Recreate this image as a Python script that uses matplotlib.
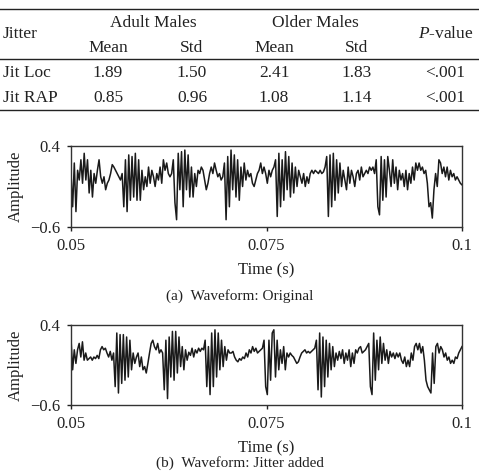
import numpy as np
import matplotlib
matplotlib.use("Agg")
import matplotlib.pyplot as plt

plt.rcParams['font.family'] = ['Liberation Serif', 'DejaVu Serif']
plt.rcParams['mathtext.fontset'] = 'custom'
plt.rcParams['mathtext.rm'] = 'Liberation Serif'
plt.rcParams['mathtext.it'] = 'Liberation Serif:italic'

# table data
row_names = ["Jit Loc", "Jit RAP"]
adult_mean = ["1.89", "0.85"]
adult_std = ["1.50", "0.96"]
older_mean = ["2.41", "1.08"]
older_std = ["1.83", "1.14"]
p_values = ["<.001", "<.001"]

# waveform values, 0.05 s .. 0.1 s
wave_original = [
    0.06, -0.35, 0.19, -0.41, 0.10, -0.02, 0.23, -0.06, 0.31, -0.02, 0.23, -0.18, 0.10, -0.23, 0.06,
    -0.06, 0.10, 0.23, 0.02, -0.06, 0.02, -0.14, -0.06, -0.02, 0.06, 0.17, 0.14, 0.10, 0.06, 0.02,
    -0.02, 0.06, -0.35, 0.23, -0.41, 0.29, -0.27, 0.27, -0.23, 0.31, -0.27, 0.23, -0.27, 0.10, -0.14,
    0.02, -0.10, 0.14, -0.06, 0.10, 0.02, -0.10, 0.06, -0.02, 0.14, -0.06, 0.23, 0.10, 0.19,
    0.06, 0.02, 0.06, 0.23, -0.30, -0.51, 0.31, -0.14, 0.33, -0.35, 0.35, -0.14, 0.29, -0.23, 0.14,
    -0.23, 0.06, -0.10, 0.10, 0.06, 0.14, 0.10, -0.02, -0.14, -0.06, 0.06, 0.14, 0.06, 0.19, 0.10,
    0.02, 0.06, -0.02, 0.02, 0.19, -0.51, 0.27, -0.35, 0.35, -0.14, 0.29, -0.23, 0.23, -0.27, 0.14,
    -0.10, 0.19, -0.02, 0.10, 0.02, 0.06, -0.06, -0.10, -0.02, 0.06, 0.10, 0.19, 0.06, 0.14,
    0.06, -0.06, 0.10, 0.02, 0.10, 0.14, 0.23, -0.47, 0.31, -0.35, 0.23, -0.27, 0.33, -0.14, 0.27,
    -0.23, 0.19, -0.18, 0.14, -0.10, 0.10, 0.02, -0.06, 0.06, -0.10, 0.02, -0.06, 0.06, 0.10, 0.06,
    0.10, 0.08, 0.06, 0.10, 0.06, 0.08, 0.14, 0.27, -0.47, 0.29, -0.35, 0.31, -0.27, 0.23, -0.18,
    0.19, -0.10, 0.10, -0.02, -0.14, 0.14, -0.06, 0.10, 0.02, -0.10, 0.06, 0.10, -0.02, 0.14,
    0.02, 0.06, 0.10, 0.06, 0.14, 0.10, 0.14, 0.06, 0.23, -0.35, -0.45, 0.27, -0.27, 0.23, -0.23,
    0.27, 0.10, -0.10, 0.23, -0.06, 0.14, -0.14, 0.10, -0.02, 0.06, -0.10, 0.10, -0.14, 0.06, -0.06,
    0.14, -0.02, 0.19, 0.10, 0.19, 0.10, 0.14, 0.06, 0.10, -0.06, -0.35, -0.30, -0.49, -0.14, 0.06,
    -0.10, 0.23, 0.19, 0.06, 0.14, 0.02, 0.14, -0.02, 0.10, 0.02, 0.06, -0.02, 0.02, -0.02, -0.06,
    -0.08,
]

wave_jitter = [
    0.23, -0.16, 0.09, -0.08, 0.09, 0.17, 0.00, 0.19, -0.04, 0.05, -0.04, -0.02, 0.00, -0.04, 0.00,
    -0.02, 0.02, -0.02, 0.09, 0.13, 0.09, 0.11, 0.05, 0.00, 0.07, -0.04, 0.05, -0.37, 0.30, -0.45,
    0.28, -0.33, 0.28, -0.29, 0.25, -0.25, 0.21, -0.16, 0.05, -0.08, 0.00, 0.05, -0.12, 0.00, -0.16,
    -0.12, -0.20, -0.08, 0.05, 0.17, 0.21, 0.13, 0.09, 0.17, 0.05, 0.09, 0.05, -0.41,
    0.21, -0.52, 0.25, -0.25, 0.32, -0.29, 0.32, -0.20, 0.25, -0.12, 0.13, -0.16, 0.09, -0.04, 0.06,
    0.02, 0.11, 0.00, 0.09, 0.05, 0.11, 0.07, 0.11, 0.09, 0.21, -0.37, 0.13, -0.47, 0.30, -0.37,
    0.34, -0.25, 0.30, -0.16, 0.21, -0.12, 0.13, -0.04, 0.09, 0.05, 0.05, 0.07, 0.00, -0.04, -0.06,
    -0.02, -0.04, 0.00, -0.02, 0.05, 0.00, 0.09, 0.05, 0.13, 0.07, 0.11, 0.05, 0.07, 0.09, 0.11,
    0.21, -0.37, -0.47, 0.21, -0.29, 0.30, 0.34, -0.25, 0.21, -0.16, 0.09, -0.08, 0.13, -0.16, 0.05,
    0.00, 0.05, 0.02, 0.00, -0.04, -0.08, -0.06, 0.00, 0.05, 0.07, 0.09, 0.05, 0.07, 0.05, 0.07,
    0.09, 0.11, 0.21, -0.41, 0.30, -0.50, 0.25, -0.37, 0.21, -0.25, 0.17, -0.16, 0.13, -0.12, 0.05,
    -0.04, 0.07, -0.02, 0.09, -0.08, 0.05, -0.04, 0.09, -0.12, 0.05, -0.08, 0.09, 0.05, 0.11, 0.13,
    0.05, 0.07, 0.09, 0.13, 0.17, -0.37, -0.47, 0.30, -0.29, 0.21, -0.16, 0.25, -0.08, 0.17, -0.04,
    0.09, -0.08, 0.07, 0.00, 0.05, -0.02, 0.05, 0.00, 0.05, -0.04, -0.08, 0.00, -0.12, -0.04, -0.12,
    0.05, -0.04, 0.13, 0.17, 0.09, 0.17, 0.05, 0.13, -0.04, -0.29, -0.37, -0.41, -0.45, 0.05, -0.33,
    0.13, 0.17, 0.05, 0.13, 0.09, 0.00, 0.05, -0.04, 0.00, -0.08, -0.04, -0.08, 0.00, -0.02, 0.05,
    0.09, 0.13,
]

x_ticks = [0.05, 0.075, 0.1]
x_tick_labels = ["0.05", "0.075", "0.1"]
y_ticks = [-0.6, 0.4]
y_tick_labels = ["\u22120.6", "0.4"]
captions = ["(a)  Waveform: Original", "(b)  Waveform: Jitter added"]

W, H = 479, 472
fig = plt.figure(figsize=(W / 100, H / 100), dpi=100)
ink = '#222222'


def fy(y):
    return 1 - y / H


def fx(x):
    return x / W


# ---- table ----
fs_tab = 12.5
for y in [8.5, 59, 110]:
    fig.add_artist(plt.Line2D([0, 1], [fy(y), fy(y)], color=ink, lw=1.0))

fig.text(fx(3), fy(34), "Jitter", ha='left', va='center', fontsize=fs_tab, color=ink)
fig.text(fx(153), fy(23), "Adult Males", ha='center', va='center', fontsize=fs_tab, color=ink)
fig.text(fx(315), fy(23), "Older Males", ha='center', va='center', fontsize=fs_tab, color=ink)
fig.text(fx(474), fy(34), "$P$-value", ha='right', va='center', fontsize=fs_tab, color=ink)
col_x = [108, 192, 274, 357]
for cx, lab in zip(col_x, ["Mean", "Std", "Mean", "Std"]):
    fig.text(fx(cx), fy(48), lab, ha='center', va='center', fontsize=fs_tab, color=ink)

row_y = [73, 98]
for i, ry in enumerate(row_y):
    fig.text(fx(3), fy(ry), row_names[i], ha='left', va='center', fontsize=fs_tab, color=ink)
    vals = [adult_mean[i], adult_std[i], older_mean[i], older_std[i]]
    for cx, v in zip(col_x, vals):
        fig.text(fx(cx), fy(ry), v, ha='center', va='center', fontsize=fs_tab, color=ink)
    fig.text(fx(445), fy(ry), p_values[i], ha='center', va='center', fontsize=fs_tab, color=ink)

# ---- waveforms ----
panels = [(146, 227, wave_original, 296), (325, 405, wave_jitter, 463)]
for (top, bot, wave, cap_y), cap in zip(panels, captions):
    ax = fig.add_axes([fx(71), fy(bot), fx(462) - fx(71), (bot - top) / H])
    t = np.linspace(0.05, 0.1, len(wave))
    ax.plot(t, wave, color='#1a1a1a', lw=1.1)
    ax.set_xlim(0.05, 0.1)
    ax.set_ylim(-0.6, 0.4)
    ax.set_xticks(x_ticks)
    ax.set_xticklabels(x_tick_labels)
    ax.set_yticks(y_ticks)
    ax.set_yticklabels(y_tick_labels)
    ax.tick_params(direction='out', length=3, width=1, colors=ink, labelsize=12, pad=5)
    for s in ax.spines.values():
        s.set_color('#333333')
        s.set_linewidth(1.0)
    ax.set_xlabel("Time (s)", fontsize=12, color=ink, labelpad=6)
    ax.set_ylabel("Amplitude", fontsize=12, color=ink, labelpad=4)
    fig.text(0.5, fy(cap_y), cap, ha='center', va='center', fontsize=11, color=ink)

fig.savefig("out.png", dpi=100)
